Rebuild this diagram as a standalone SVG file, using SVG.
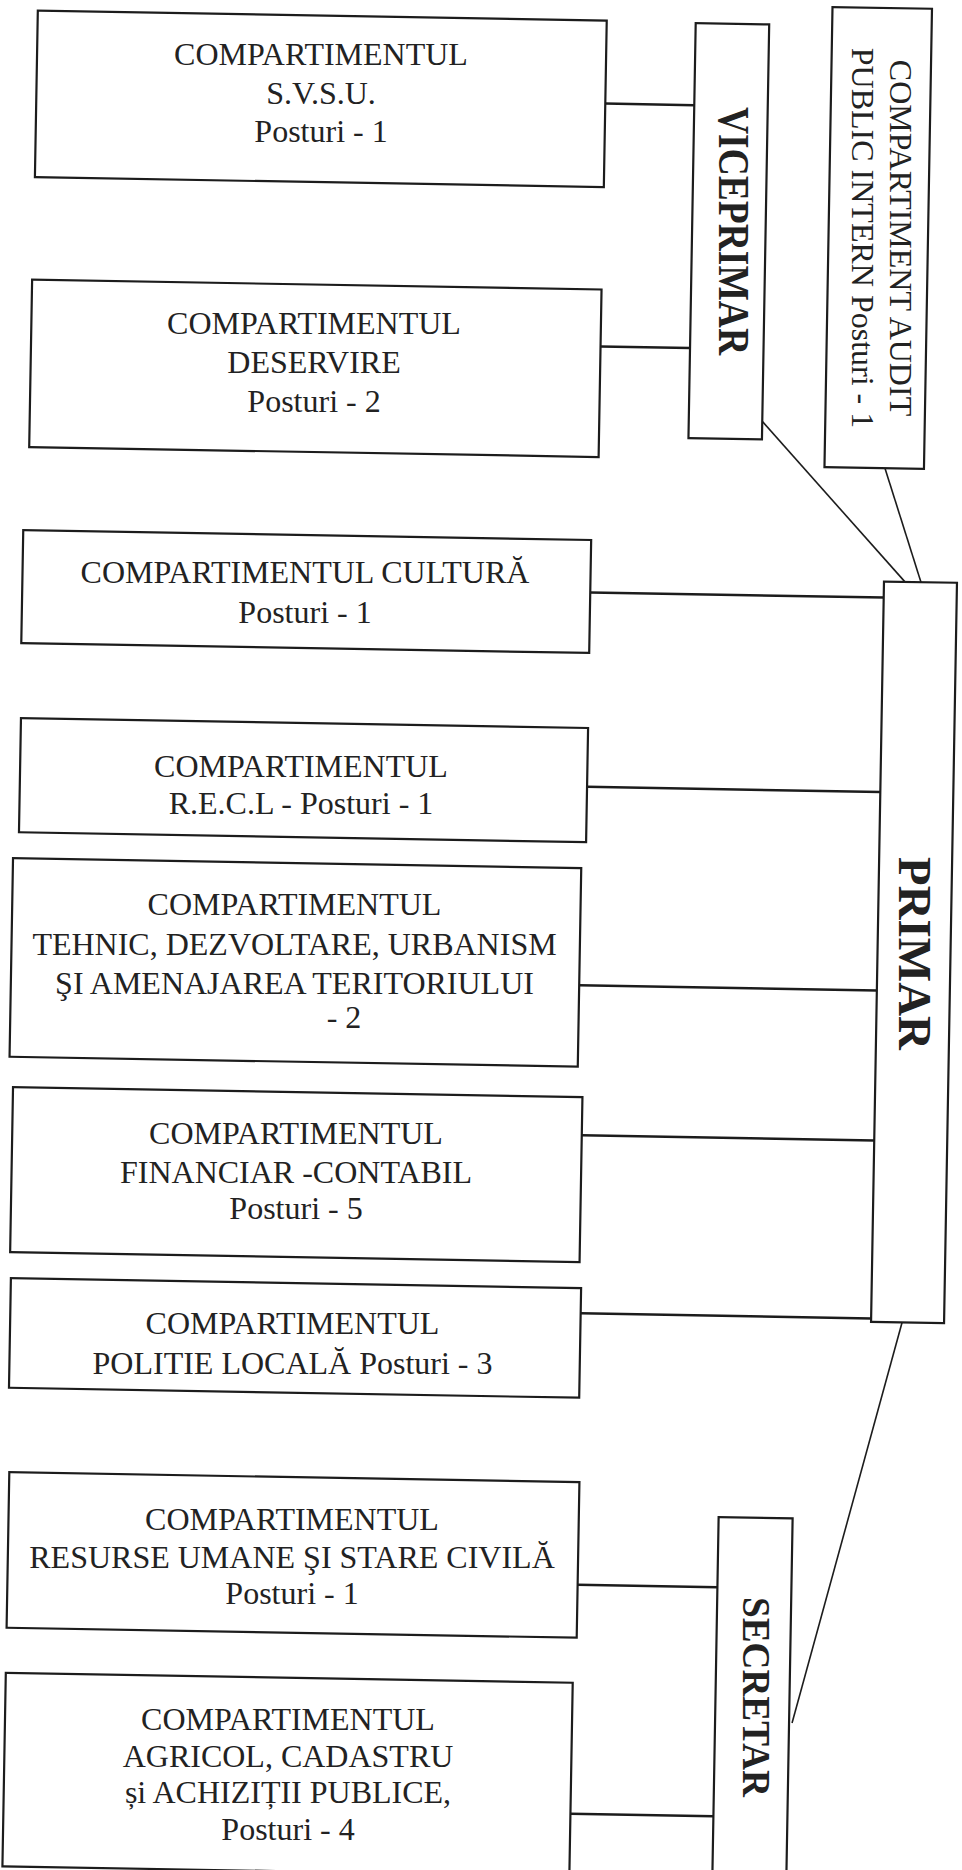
<svg xmlns="http://www.w3.org/2000/svg" width="962" height="1870" viewBox="0 0 962 1870">
<style>
.box{fill:#fff;stroke:#1c1c1c;stroke-width:2.2}
.t{font-family:"Liberation Serif","Times New Roman",serif;font-size:32px;fill:#222;text-anchor:middle}
.b{font-family:"Liberation Serif","Times New Roman",serif;font-weight:bold;fill:#222;text-anchor:middle}
.c{stroke:#1c1c1c;stroke-width:2.5;fill:none}
.d{stroke:#1c1c1c;stroke-width:1.6;fill:none}
</style>
<rect width="962" height="1870" fill="#fff"/>
<g id="connectors" transform="rotate(1)">
<line class="c" x1="607" y1="93" x2="696" y2="93"/>
<line class="c" x1="606.5" y1="336" x2="696" y2="336"/>
<line class="c" x1="600.5" y1="582" x2="894" y2="582"/>
<line class="c" x1="600.7" y1="776.5" x2="894" y2="776.5"/>
<line class="c" x1="596.3" y1="975" x2="894" y2="975"/>
<line class="c" x1="601.5" y1="1125" x2="894" y2="1125"/>
<line class="c" x1="603.5" y1="1303" x2="894" y2="1303"/>
<line class="c" x1="605.2" y1="1574.5" x2="745" y2="1574.5"/>
<line class="c" x1="602" y1="1803.5" x2="745" y2="1803.5"/>
<line class="d" x1="769.5" y1="408" x2="915" y2="566"/>
<line class="d" x1="893" y1="452.7" x2="931" y2="566"/>
<line class="d" x1="925" y1="1306.5" x2="822" y2="1709"/>
</g>
<g id="svsu"><rect class="box" transform="rotate(1)" x="38" y="10" width="569" height="166.5"/>
<text class="t" x="321" y="65">COMPARTIMENTUL</text>
<text class="t" x="321" y="104">S.V.S.U.</text>
<text class="t" x="321" y="142">Posturi - 1</text></g>
<g id="deservire"><rect class="box" transform="rotate(1)" x="37" y="279" width="569.5" height="167.5"/>
<text class="t" x="314" y="334">COMPARTIMENTUL</text>
<text class="t" x="314" y="373">DESERVIRE</text>
<text class="t" x="314" y="412">Posturi - 2</text></g>
<g id="cultura"><rect class="box" transform="rotate(1)" x="32.5" y="529.6" width="568" height="113"/>
<text class="t" x="305" y="583">COMPARTIMENTUL CULTURĂ</text>
<text class="t" x="305" y="623">Posturi - 1</text></g>
<g id="recl"><rect class="box" transform="rotate(1)" x="33.5" y="717.6" width="567.2" height="114.2"/>
<text class="t" x="301" y="777">COMPARTIMENTUL</text>
<text class="t" x="301" y="814">R.E.C.L - Posturi - 1</text></g>
<g id="tehnic"><rect class="box" transform="rotate(1)" x="28" y="857.8" width="568.3" height="198.6"/>
<text class="t" x="294.5" y="915">COMPARTIMENTUL</text>
<text class="t" x="294.5" y="955">TEHNIC, DEZVOLTARE, URBANISM</text>
<text class="t" x="294.5" y="994">ŞI AMENAJAREA TERITORIULUI</text>
<text class="t" x="344" y="1028">- 2</text></g>
<g id="financiar"><rect class="box" transform="rotate(1)" x="32" y="1086.8" width="569.5" height="165"/>
<text class="t" x="296" y="1144">COMPARTIMENTUL</text>
<text class="t" x="296" y="1183">FINANCIAR -CONTABIL</text>
<text class="t" x="296" y="1219">Posturi - 5</text></g>
<g id="politie"><rect class="box" transform="rotate(1)" x="33.2" y="1277.8" width="570.3" height="109.6"/>
<text class="t" x="292.5" y="1334">COMPARTIMENTUL</text>
<text class="t" x="292.5" y="1374">POLITIE LOCALĂ Posturi - 3</text></g>
<g id="resurse"><rect class="box" transform="rotate(1)" x="35" y="1471.8" width="570.2" height="155.6"/>
<text class="t" x="292" y="1530">COMPARTIMENTUL</text>
<text class="t" x="292" y="1568">RESURSE UMANE ŞI STARE CIVILĂ</text>
<text class="t" x="292" y="1604">Posturi - 1</text></g>
<g id="agricol"><rect class="box" transform="rotate(1)" x="35" y="1672.5" width="567" height="193.5"/>
<text class="t" x="288" y="1730">COMPARTIMENTUL</text>
<text class="t" x="288" y="1767">AGRICOL, CADASTRU</text>
<text class="t" x="288" y="1803">și ACHIZIȚII PUBLICE,</text>
<text class="t" x="288" y="1840">Posturi - 4</text></g>
<g id="viceprimar"><rect class="box" transform="rotate(1)" x="696" y="11" width="73.5" height="415"/>
<text class="b" font-size="44" textLength="248" lengthAdjust="spacingAndGlyphs" transform="translate(733,231) rotate(90)" x="0" y="14.5">VICEPRIMAR</text></g>
<g id="audit"><rect class="box" transform="rotate(1)" x="832.5" y="-7.5" width="99.5" height="460.2"/>
<g transform="translate(881.75,238) rotate(90)">
<text class="t" x="0" y="-8.6">COMPARTIMENT AUDIT</text>
<text class="t" x="0" y="29.8">PUBLIC INTERN Posturi - 1</text></g></g>
<g id="primar"><rect class="box" transform="rotate(1)" x="894" y="566" width="73" height="740.5"/>
<text class="b" font-size="47" textLength="193" lengthAdjust="spacingAndGlyphs" transform="translate(914,953.5) rotate(90)" x="0" y="15.5">PRIMAR</text></g>
<g id="secretar"><rect class="box" transform="rotate(1)" x="745" y="1504.3" width="74" height="420"/>
<text class="b" font-size="41" textLength="200" lengthAdjust="spacingAndGlyphs" transform="translate(756.5,1697) rotate(90)" x="0" y="13.5">SECRETAR</text></g>
</svg>
